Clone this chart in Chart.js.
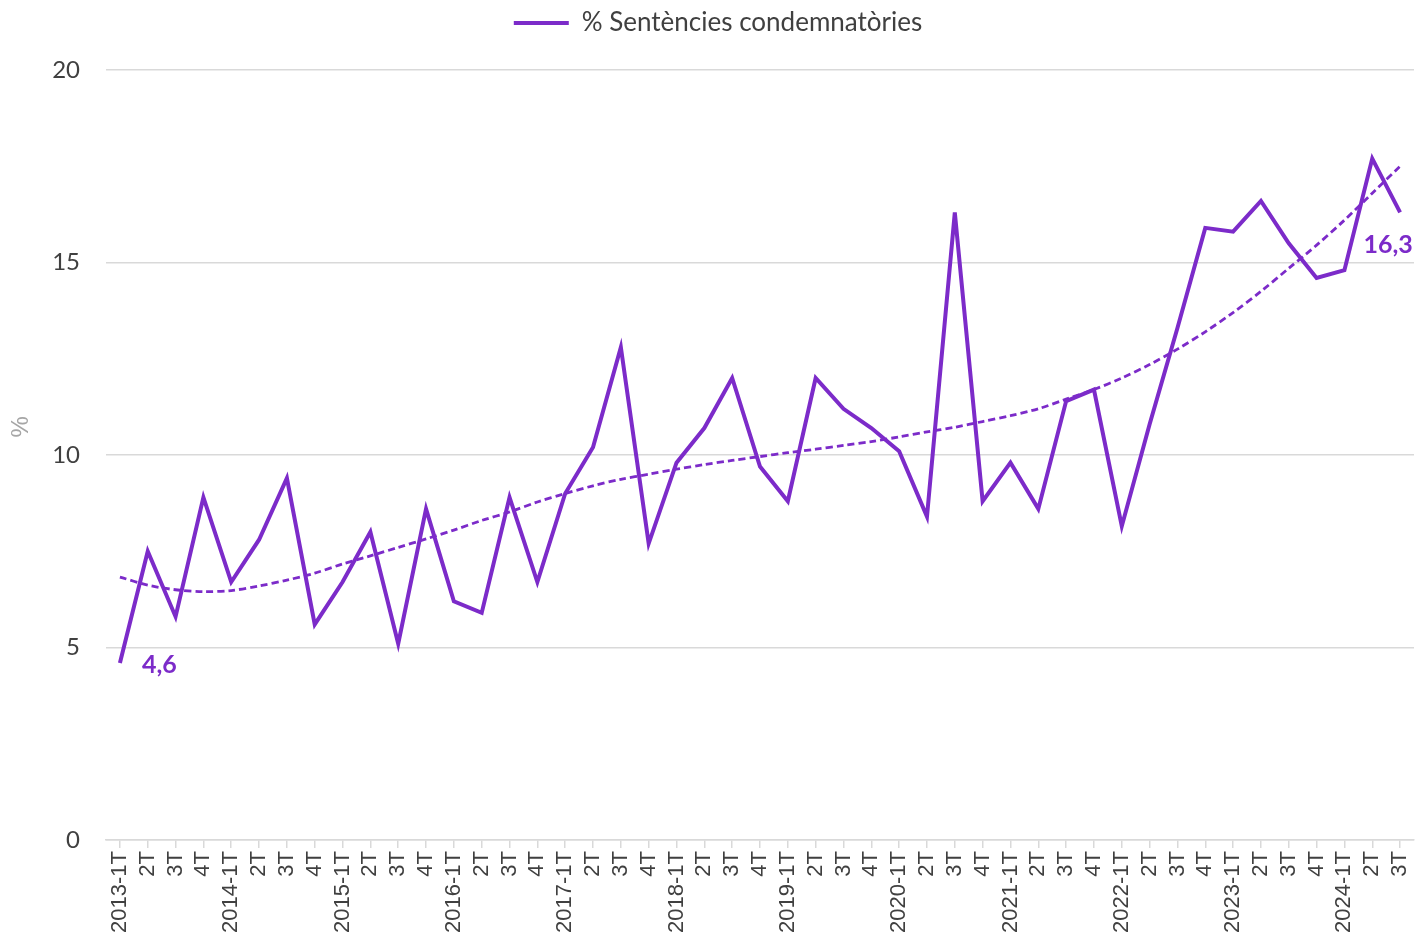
<!DOCTYPE html>
<html>
<head>
<meta charset="utf-8">
<script src="https://cdn.jsdelivr.net/npm/chart.js@4"></script>
<style>
  html,body{margin:0;padding:0;background:#fff;}
  #wrap{width:1417px;height:936px;}
</style>
</head>
<body>
<div id="wrap"><canvas id="c"></canvas></div>
<script>
const trimestres = [
  '2013-1T','2T','3T','4T',
  '2014-1T','2T','3T','4T',
  '2015-1T','2T','3T','4T',
  '2016-1T','2T','3T','4T',
  '2017-1T','2T','3T','4T',
  '2018-1T','2T','3T','4T',
  '2019-1T','2T','3T','4T',
  '2020-1T','2T','3T','4T',
  '2021-1T','2T','3T','4T',
  '2022-1T','2T','3T','4T',
  '2023-1T','2T','3T','4T',
  '2024-1T','2T','3T'
];

const sentencies = [
  4.6, 7.5, 5.8, 8.9,
  6.7, 7.8, 9.4, 5.6,
  6.7, 8.0, 5.1, 8.6,
  6.2, 5.9, 8.9, 6.7,
  9.0, 10.2, 12.8, 7.7,
  9.8, 10.7, 12.0, 9.7,
  8.8, 12.0, 11.2, 10.7,
  10.1, 8.4, 16.3, 8.8,
  9.8, 8.6, 11.4, 11.7,
  8.15, 10.8, 13.3, 15.9,
  15.8, 16.6, 15.5, 14.6,
  14.8, 17.7, 16.3
];

// línia de tendència, llegida del gràfic
const tendencia = [
  6.83, 6.62, 6.5, 6.45,
  6.48, 6.6, 6.75, 6.93,
  7.17, 7.38, 7.6, 7.82,
  8.05, 8.3, 8.52, 8.78,
  9.0, 9.2, 9.37, 9.5,
  9.63, 9.75, 9.86, 9.96,
  10.06, 10.15, 10.25, 10.35,
  10.47, 10.6, 10.72, 10.87,
  11.02, 11.2, 11.45, 11.7,
  12.0, 12.35, 12.75, 13.2,
  13.7, 14.25, 14.85, 15.45,
  16.1, 16.8, 17.5
];

const yTicks = [0, 5, 10, 15, 20];

const LILA = '#7c2bc9';
const GRIS = '#404040';

const legendHeight = {
  id:'legendHeight',
  beforeInit(chart){
    const lg = chart.legend;
    if(!lg) return;
    const fit = lg.fit;
    lg.fit = function(){ fit.call(this); this.height = 70; };
  }
};

// etiquetes del primer i l'últim valor + títol de l'eix
const extras = {
  id:'extras',
  afterDatasetsDraw(chart){
    const pts = chart.getDatasetMeta(0).data;
    const ctx = chart.ctx;
    const fmt = v => String(v).replace('.', ',');
    ctx.save();
    ctx.font = "bold 25px 'Lato', sans-serif";
    ctx.fillStyle = LILA;
    ctx.textBaseline = 'middle';
    const a = pts[0], b = pts[pts.length-1];
    ctx.textAlign = 'left';
    ctx.fillText(fmt(sentencies[0]), a.x + 22, a.y + 2);
    ctx.textAlign = 'center';
    ctx.fillText(fmt(sentencies[sentencies.length-1]), b.x - 12, b.y + 32);

    ctx.translate(21, chart.height * 0.456);
    ctx.rotate(-Math.PI/2);
    ctx.font = "24px 'Liberation Sans', Arial, sans-serif";
    ctx.fillStyle = '#a6a6a6';
    ctx.fillText('%', 0, 0);
    ctx.restore();
  }
};

new Chart(document.getElementById('c'),{
  type:'line',
  data:{
    labels:trimestres,
    datasets:[{
      label:'% Sentències condemnatòries',
      data:sentencies,
      borderColor:LILA,
      backgroundColor:LILA,
      borderWidth:4,
      pointRadius:0,
      tension:0
    },{
      label:'Tendència',
      data:tendencia,
      borderColor:LILA,
      borderWidth:2.8,
      borderDash:[7,4],
      pointRadius:0,
      tension:0.3
    }]
  },
  options:{
    responsive:true, maintainAspectRatio:false,
    animation:false,
    layout:{padding:{left:22,right:3,top:0,bottom:0}},
    plugins:{
      legend:{
        position:'top',
        labels:{
          filter:item=>item.datasetIndex===0,
          usePointStyle:true,
          pointStyle:'line',
          pointStyleWidth:55,
          padding:10,
          color:GRIS,
          font:{family:"'Lato', sans-serif",size:26}
        }
      },
      tooltip:{enabled:false}
    },
    scales:{
      x:{
        offset:true,
        grid:{drawOnChartArea:false,drawTicks:true,tickLength:8,color:'#d9d9d9',lineWidth:1.5},
        border:{color:'#d9d9d9',width:1.5},
        ticks:{
          autoSkip:false,minRotation:90,maxRotation:90,padding:3,
          color:GRIS,
          font:{family:"'Liberation Sans', Arial, sans-serif",size:22}
        },
        afterFit:s=>{ s.height = 96; s.paddingLeft = 0; s.paddingRight = 0; }
      },
      y:{
        min:0,max:20,
        afterBuildTicks:s=>{ s.ticks = yTicks.map(v=>({value:v})); },
        grid:{drawTicks:false,color:'#d9d9d9',lineWidth:1.5},
        border:{display:false},
        ticks:{
          padding:26,color:GRIS,
          font:{family:"'Lato', sans-serif",size:24}
        },
        afterFit:s=>{ s.width = 84; s.paddingTop = 0; s.paddingBottom = 0; }
      }
    }
  },
  plugins:[legendHeight,extras]
});
</script>
</body>
</html>
